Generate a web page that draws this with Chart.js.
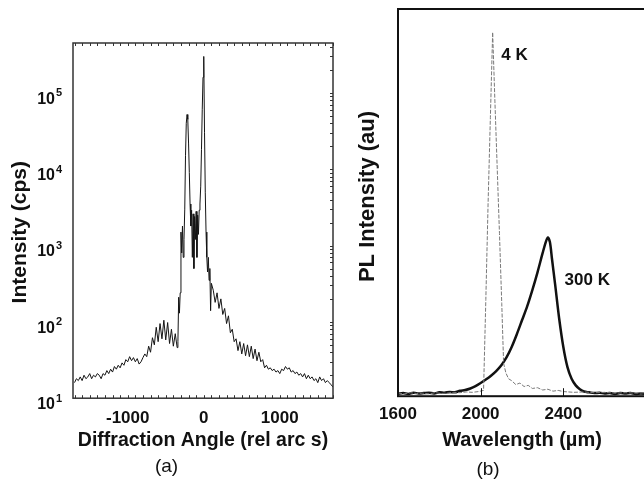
<!DOCTYPE html>
<html>
<head>
<meta charset="utf-8">
<script src="https://cdn.jsdelivr.net/npm/chart.js@4.4.1/dist/chart.umd.min.js"></script>
<style>
  html, body { margin: 0; padding: 0; background: #fff; overflow: hidden; width: 644px; height: 483px; }
  #xrd { position: absolute; left: 0; top: 0; }
  #pl { position: absolute; left: 330px; top: 0; }
</style>
</head>
<body>
<canvas id="xrd" width="340" height="483"></canvas>
<canvas id="pl" width="330" height="483"></canvas>
<script>
// (a) X-ray rocking curve
const xrdAngle = [
  -1700, -1675, -1650, -1625, -1600, -1575, -1550, -1525, -1500, -1475,
  -1450, -1425, -1400, -1375, -1350, -1325, -1300, -1275, -1250, -1225,
  -1200, -1175, -1150, -1125, -1100, -1075, -1050, -1025, -1000, -975,
  -950, -925, -900, -875, -850, -825, -800, -775, -750, -725,
  -700, -675, -650, -625, -600, -575, -550, -525, -500, -475,
  -450, -425, -400, -375, -350,
  -340, -330, -320, -310, -300, -290, -280, -270, -260, -250,
  -240, -230, -220, -210, -200, -190, -180, -170, -160, -150,
  -140, -130, -120, -110, -100, -90, -80, -70, -60, -50,
  -40, -30, -20, -10, 0, 10, 20, 30, 40, 50,
  60, 70, 80, 90, 100,
  125, 150, 175, 200, 225, 250, 275, 300, 325, 350,
  375, 400, 425, 450, 475, 500, 525, 550, 575, 600,
  625, 650, 675, 700, 725, 750, 775, 800, 825, 850,
  875, 900, 925, 950, 975, 1000, 1025, 1050, 1075, 1100,
  1125, 1150, 1175, 1200, 1225, 1250, 1275, 1300, 1325, 1350,
  1375, 1400, 1425, 1450, 1475, 1500, 1525, 1550, 1575, 1600,
  1625, 1650, 1675, 1700
];
const xrdCounts = [
  16, 18, 17, 19, 17, 20, 18, 19, 21, 18,
  20, 19, 21, 20, 18, 21, 20, 23, 21, 24,
  22, 26, 24, 27, 25, 29, 27, 32, 30, 35,
  31, 34, 30, 33, 28, 30, 34, 38, 35, 48,
  40, 62, 50, 85, 55, 95, 60, 105, 58, 98,
  52, 80, 48, 70, 46,
  55, 210, 130, 240, 1500, 800, 1800, 700, 1200, 3000,
  15000, 40000, 52000, 45000, 22000, 9000, 3500, 1800, 2900, 700,
  2600, 500, 2400, 1200, 2800, 700, 2500, 1400, 2900, 3500,
  6000, 18000, 60000, 160000, 300000, 30000, 5000, 1500, 700, 450,
  700, 350, 500, 140, 320,
  260, 180, 240, 150, 200, 125, 150, 95, 120, 72,
  80, 55, 60, 42, 55, 38, 52, 36, 50, 35,
  48, 33, 44, 31, 40, 30, 32, 25, 27, 24,
  25, 23, 24, 22, 23, 21, 24, 23, 26, 24,
  25, 22, 23, 21, 22, 20, 21, 19, 21, 18,
  20, 18, 19, 17, 18, 16, 19, 17, 18, 16,
  17, 16, 15, 14
];
const xrdTickValues = [-1000, 0, 1000];
const xrdPowers = [1, 2, 3, 4, 5];

// (b) photoluminescence spectra
const pl300Wavelength = [
  1600, 1625, 1650, 1675, 1700, 1725, 1750, 1775, 1800, 1825,
  1850, 1875, 1900, 1925, 1950, 1975, 2000, 2025, 2050, 2075,
  2100, 2125, 2150, 2175, 2200, 2225, 2250, 2275, 2300, 2315,
  2325, 2335, 2345, 2360, 2380, 2400, 2420, 2440, 2460, 2480,
  2500, 2525, 2550, 2575, 2600, 2625, 2650, 2675, 2700, 2725,
  2750, 2775, 2800
];
const pl300Intensity = [
  0.006, 0.008, 0.006, 0.009, 0.007, 0.008, 0.009, 0.007, 0.010, 0.009,
  0.011, 0.010, 0.014, 0.016, 0.020, 0.026, 0.034, 0.043, 0.053, 0.065,
  0.080, 0.100, 0.127, 0.160, 0.196, 0.232, 0.274, 0.320, 0.370, 0.398,
  0.410, 0.398, 0.355, 0.290, 0.200, 0.127, 0.075, 0.045, 0.028, 0.018,
  0.012, 0.010, 0.008, 0.009, 0.007, 0.008, 0.006, 0.008, 0.007, 0.008,
  0.006, 0.007, 0.006
];
const pl4Wavelength = [
  1600, 1630, 1660, 1690, 1720, 1750, 1780, 1810, 1840, 1870,
  1900, 1930, 1960, 1990, 2014, 2025, 2036, 2047, 2058, 2069,
  2080, 2091, 2102, 2111, 2122, 2135, 2150, 2170, 2190, 2210,
  2230, 2250, 2275, 2300, 2325, 2350, 2375, 2400, 2450, 2500,
  2550, 2600, 2650, 2700, 2750, 2800
];
const pl4Intensity = [
  0.008, 0.006, 0.009, 0.007, 0.008, 0.006, 0.009, 0.007, 0.008, 0.010,
  0.009, 0.011, 0.010, 0.012, 0.015, 0.250, 0.500, 0.720, 0.940, 0.760,
  0.590, 0.420, 0.240, 0.085, 0.060, 0.045, 0.040, 0.030, 0.034, 0.025,
  0.028, 0.020, 0.022, 0.016, 0.018, 0.013, 0.015, 0.012, 0.010, 0.011,
  0.009, 0.010, 0.008, 0.009, 0.008, 0.009
];
const plTickValues = [1600, 2000, 2400];
const plLabels = ['4 K', '300 K'];
const plLabelX = [2164, 2516];
const plLabelY = [0.88, 0.30];

const ink = '#111';
const family = "'Liberation Sans', Arial, Helvetica, sans-serif";
Chart.defaults.font.family = family;
Chart.defaults.color = ink;

const toPoints = (xs, ys) => xs.map((x, i) => ({ x: x, y: ys[i] }));

// frame round the plot area, with small inward tick marks
const framePlugin = {
    id: 'frame',
    afterDatasetsDraw(chart, args, opts) {
        const { ctx, chartArea: a, scales } = chart;
        ctx.save();
        ctx.strokeStyle = opts.color;
        ctx.lineWidth = opts.width;
        ctx.strokeRect(a.left, a.top, a.right - a.left, a.bottom - a.top);

        ctx.lineWidth = 1;
        ctx.beginPath();
        (opts.xTicks || []).forEach(v => {
            const px = Math.round(scales.x.getPixelForValue(v)) + 0.5;
            if (opts.bottomLen) { ctx.moveTo(px, a.bottom); ctx.lineTo(px, a.bottom - opts.bottomLen); }
            if (opts.topLen) { ctx.moveTo(px, a.top); ctx.lineTo(px, a.top + opts.topLen); }
        });
        (opts.yTicks || []).forEach(v => {
            if (v > scales.y.max) return;
            const py = Math.round(scales.y.getPixelForValue(v)) + 0.5;
            ctx.moveTo(a.right, py); ctx.lineTo(a.right - opts.rightLen, py);
        });
        ctx.stroke();
        ctx.restore();
    }
};

// "10" with a raised exponent for the log axis
const powerLabelPlugin = {
    id: 'powerLabels',
    afterDraw(chart, args, opts) {
        if (!opts.powers) return;
        const { ctx, chartArea } = chart;
        const y = chart.scales.y;
        const xr = chartArea.left - 18;
        ctx.save();
        ctx.fillStyle = ink;
        ctx.textBaseline = 'middle';
        opts.powers.forEach(p => {
            const py = y.getPixelForValue(Math.pow(10, p));
            ctx.font = 'bold 16px ' + family;
            ctx.textAlign = 'right';
            ctx.fillText('10', xr, py + 6.5);
            ctx.font = 'bold 11px ' + family;
            ctx.textAlign = 'left';
            ctx.fillText(String(p), xr + 1, py + 0.5);
        });
        ctx.restore();
    }
};

// curve names placed in data coordinates
const curveLabelPlugin = {
    id: 'curveLabels',
    afterDatasetsDraw(chart, args, opts) {
        if (!opts.text) return;
        const { ctx, scales } = chart;
        ctx.save();
        ctx.fillStyle = ink;
        ctx.font = 'bold 17px ' + family;
        ctx.textAlign = 'center';
        ctx.textBaseline = 'middle';
        opts.text.forEach((t, i) => {
            ctx.fillText(t, scales.x.getPixelForValue(opts.xs[i]), scales.y.getPixelForValue(opts.ys[i]));
        });
        ctx.restore();
    }
};

const xrdMinor = [];
for (let v = -1700; v <= 1700; v += 100) xrdMinor.push(v);
const xrdLogMinor = [];
for (let p = 1; p <= 5; p++) for (let m = 1; m <= 9; m++) xrdLogMinor.push(m * Math.pow(10, p));

new Chart(document.getElementById('xrd'), {
    type: 'line',
    data: {
        datasets: [{
            data: toPoints(xrdAngle, xrdCounts),
            borderColor: '#151515',
            borderWidth: 1,
            pointRadius: 0,
            tension: 0
        }]
    },
    options: {
        responsive: false,
        animation: false,
        devicePixelRatio: 1,
        layout: { padding: { top: 43, right: 7, left: 0, bottom: 0 } },
        plugins: {
            legend: { display: false },
            tooltip: { enabled: false },
            subtitle: {
                display: true, position: 'bottom', text: '(a)', color: ink,
                font: { size: 19, weight: 'normal' }, padding: { top: 0, bottom: 5 }
            },
            frame: { color: '#333', width: 1.5, xTicks: xrdMinor, bottomLen: 3, topLen: 3, yTicks: xrdLogMinor, rightLen: 3 },
            powerLabels: { powers: xrdPowers }
        },
        scales: {
            x: {
                type: 'linear', min: -1720, max: 1700,
                grid: { display: false }, border: { display: false },
                afterBuildTicks: s => { s.ticks = xrdTickValues.map(v => ({ value: v })); },
                afterFit: s => { s.height = 57; },
                ticks: { padding: 2, maxRotation: 0, color: ink, font: { size: 17, weight: 'bold' }, callback: v => String(v) },
                title: { display: true, text: 'Diffraction Angle (rel arc s)', color: ink, font: { size: 19.5, weight: 'bold' }, padding: { top: 0, bottom: 3 } }
            },
            y: {
                type: 'logarithmic', min: 10, max: 450000,
                grid: { display: false }, border: { display: false },
                afterFit: s => { s.width = 73; },
                ticks: { display: false },
                // trailing spaces push the title a little below the axis centre, as in the original
                title: { display: true, text: 'Intensity (cps)    ', color: ink, font: { size: 21, weight: 'bold' }, padding: { top: 8, bottom: 0 } }
            }
        }
    },
    plugins: [framePlugin, powerLabelPlugin]
});

new Chart(document.getElementById('pl'), {
    type: 'line',
    data: {
        datasets: [{
            label: '4 K',
            data: toPoints(pl4Wavelength, pl4Intensity),
            borderColor: '#7a7a7a',
            borderWidth: 1,
            borderDash: [4, 1.5],
            pointRadius: 0,
            tension: 0
        }, {
            label: '300 K',
            data: toPoints(pl300Wavelength, pl300Intensity),
            borderColor: '#111',
            borderWidth: 2.5,
            pointRadius: 0,
            tension: 0.3
        }]
    },
    options: {
        responsive: false,
        animation: false,
        devicePixelRatio: 1,
        layout: { padding: { top: 9, right: 14, left: 0, bottom: 0 } },
        plugins: {
            legend: { display: false },
            tooltip: { enabled: false },
            subtitle: {
                display: true, position: 'bottom', text: '(b)', color: ink,
                font: { size: 19, weight: 'normal' }, padding: { top: 0, bottom: 2 }
            },
            frame: { color: '#111', width: 2, xTicks: [1600, 2000, 2400, 2800], bottomLen: 8 },
            curveLabels: { text: plLabels, xs: plLabelX, ys: plLabelY }
        },
        scales: {
            x: {
                type: 'linear', min: 1600, max: 2800,
                grid: { display: false }, border: { display: false },
                afterBuildTicks: s => { s.ticks = plTickValues.map(v => ({ value: v })); },
                afterFit: s => { s.height = 62; },
                ticks: { padding: 0, maxRotation: 0, color: ink, font: { size: 17, weight: 'bold' }, callback: v => String(v) },
                title: { display: true, text: 'Wavelength (µm)', color: ink, font: { size: 20, weight: 'bold' }, padding: { top: 0, bottom: 6 } }
            },
            y: {
                type: 'linear', min: 0, max: 1,
                grid: { display: false }, border: { display: false },
                afterFit: s => { s.width = 68; },
                ticks: { display: false },
                title: { display: true, text: '  PL Intensity (au)', color: ink, font: { size: 22, weight: 'bold' }, padding: { top: 25, bottom: 0 } }
            }
        }
    },
    plugins: [framePlugin, curveLabelPlugin]
});
</script>
</body>
</html>
